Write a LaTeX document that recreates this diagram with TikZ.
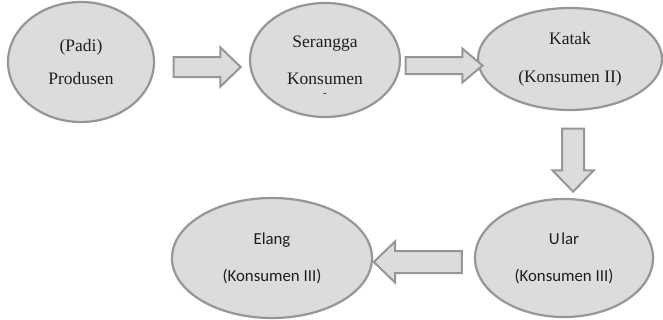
\documentclass[tikz,border=0pt]{standalone}
\usepackage{fontspec}
\setmainfont{Liberation Serif}
\newfontfamily\timesf{Liberation Serif}
\newfontfamily\calibri{Carlito}
\usetikzlibrary{shapes.geometric,shapes.arrows}
\definecolor{cellfill}{RGB}{220,220,220}
\definecolor{cellline}{RGB}{150,150,150}
\definecolor{cellink}{RGB}{30,30,30}

\begin{document}
\begin{tikzpicture}[x=1pt,y=-1pt,
  livello/.style={ellipse, draw=cellline, fill=cellfill, line width=2.2pt, inner sep=0pt,
    align=center, text=cellink, font=\timesf\fontsize{17.5}{36}\selectfont},
  livellob/.style={livello, font=\calibri\fontsize{16.8}{37}\selectfont},
  freccia/.style={single arrow, draw=cellline, fill=cellfill, line width=2pt, inner sep=9pt,
    single arrow head extend=9.5pt, single arrow head indent=0pt,
    single arrow tip angle=88}]
\useasboundingbox (0,0) rectangle (663,320);

% catena alimentare
\node[livello, minimum width=146pt, minimum height=120pt] (padi) at (81,62)
  {(Padi)\\[-3pt]Produsen};
\node[livello, minimum width=150pt, minimum height=114pt,
  label={[text=cellink, font=\timesf\fontsize{11}{11}\selectfont, inner sep=0pt, yshift=-35pt]center:-}] (serangga) at (325,60)
  {Serangga\\[1pt]Konsumen};
\node[livello, minimum width=184pt, minimum height=102pt] (katak) at (570,59)
  {Katak\\[2pt](Konsumen II)};
\node[livellob, minimum width=178pt, minimum height=118pt, yshift=0pt] (ular) at (564,258)
  {U\kern1.5pt lar\\(Konsumen III)};
\node[livellob, minimum width=200pt, minimum height=120pt] (elang) at (272,258)
  {Elang\\(Konsumen III)};

% frecce
\path (padi) -- node[freccia, minimum height=67pt, yshift=-6pt] {} (serangga);
\path (serangga) -- node[freccia, inner sep=7.5pt, single arrow head extend=8.5pt,
  minimum height=77pt, yshift=-6pt, single arrow tip angle=80] {} (katak);
\path (katak) -- node[freccia, inner sep=10pt, minimum height=63pt, xshift=6pt, shape border rotate=270] {} (ular);
\path (ular) -- node[freccia, inner sep=10pt, minimum height=88pt, yshift=-4pt, shape border rotate=180] {} (elang);

\end{tikzpicture}
\end{document}
